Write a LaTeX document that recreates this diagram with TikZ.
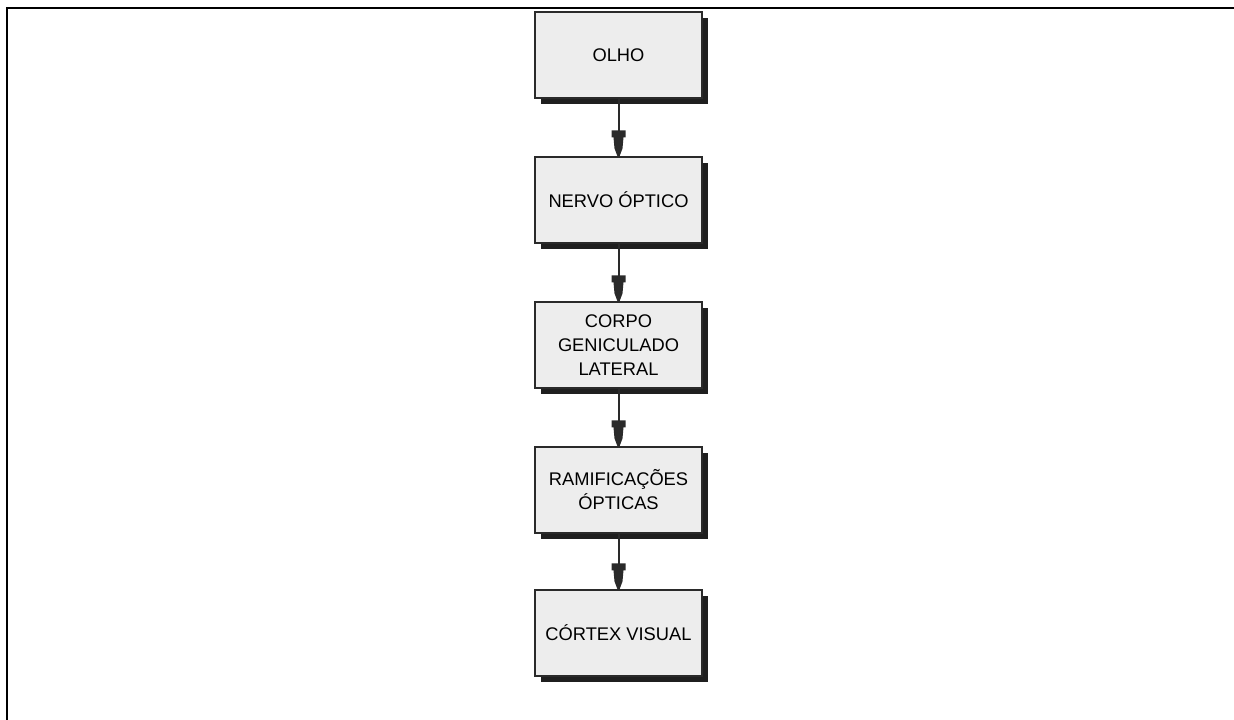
\documentclass[tikz,border=0pt]{standalone}
\usepackage{fontspec}
\setmainfont{Liberation Sans}
\usetikzlibrary{shadows}
\definecolor{boxfill}{HTML}{EDEDED}
\definecolor{linecol}{HTML}{2A2A2A}
\tikzset{
  flowbox/.style={draw=linecol, line width=1.2pt, fill=boxfill,
    minimum width=167pt, minimum height=86pt, inner sep=2pt,
    align=center, font=\fontsize{18.3}{24}\selectfont,
    drop shadow={shadow xshift=6pt, shadow yshift=-6pt, fill=black!88, opacity=1}},
  link/.style={draw=linecol, line width=2pt},
  blockhead/.pic={
    \fill[linecol] (-7,-26) -- (7,-26) -- (7,-19) -- (5,-19) -- (4,-8) -- (1,0)
      -- (-1,0) -- (-4,-8) -- (-5,-19) -- (-7,-19) -- cycle;
  }
}
\begin{document}
\begin{tikzpicture}[x=1pt,y=-1pt]
\useasboundingbox (0,0) rectangle (1234,720);
\draw[line width=2.2pt] (7,720) -- (7,8) -- (1234,8);
\node[flowbox] (olho) at (618.5,55) {OLHO};
\node[flowbox] (nervo) at (618.5,200) {NERVO ÓPTICO};
\node[flowbox] (corpo) at (618.5,345) {CORPO\\GENICULADO\\LATERAL};
\node[flowbox] (ramif) at (618.5,490) {RAMIFICAÇÕES\\ÓPTICAS};
\node[flowbox] (cortex) at (618.5,633) {CÓRTEX VISUAL};
\foreach \a/\b in {olho/nervo, nervo/corpo, corpo/ramif, ramif/cortex}{
  \draw[link] (\a.south) -- (\b.north);
  \pic at (\b.north) {blockhead};
}
\end{tikzpicture}
\end{document}
